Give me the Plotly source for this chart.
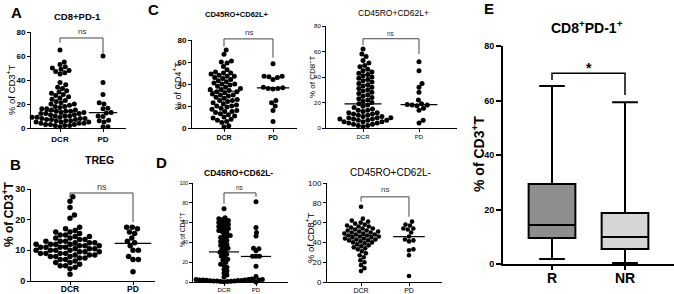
import math
import plotly.graph_objects as go

W, H = 674, 294
FONT = "Liberation Sans, Arial, sans-serif"

CATS = ["DCR", "PD"]

# ---------------- data ----------------
A_DCR = [65, 55, 53, 51, 50, 49, 48, 47, 46, 45, 38, 36, 34, 33, 31, 30, 29, 28, 27, 26,
         25, 24, 23, 22, 21, 20, 20, 19, 18, 18, 17, 16, 16, 15, 15, 14, 14, 14, 13, 13,
         12, 12, 12, 11, 11, 10, 10, 10, 9, 9, 9, 8, 8, 8, 7, 7, 7, 6, 6, 6,
         5, 5, 5, 4, 4, 4, 3, 3, 3, 2, 2, 2, 1]
A_PD = [60, 38, 28, 21, 20, 16.5, 16, 13, 12.5, 10, 9.5, 6.5, 6, 5, 1, 1]
A_LINES = [14, 12.8]

B_DCR = [27.5, 26, 24, 21.5, 20.5, 17.5, 17, 16.5, 16, 16, 15.5, 15, 15, 14.5, 14.5, 14, 14,
         13.5, 13.5, 13, 13, 13, 12.5, 12.5, 12.5, 12, 12, 12, 12, 11.5, 11.5, 11.5, 11, 11,
         11, 11, 10.5, 10.5, 10.5, 10, 10, 10, 10, 9.5, 9.5, 9.5, 9, 9, 9, 9, 8.5, 8.5, 8.5,
         8, 8, 8, 7.5, 7.5, 7, 7, 6.5, 6, 6, 5.5, 5, 5, 4.5, 4, 2.2]
B_PD = [17.5, 17.5, 17, 16, 15.5, 14, 13, 12.5, 11.5, 10, 10, 8, 7, 7, 3]
B_LINES = [11.5, 12.3]

C1_DCR = [71, 67, 61, 60, 59, 56, 53, 51, 50, 50, 49, 48, 47, 47, 46, 45, 44, 43, 42, 41,
          40, 40, 39, 38, 37, 36, 35, 35, 34, 33, 33, 32, 31, 30, 30, 29, 28, 27, 26, 25,
          25, 24, 23, 22, 21, 20, 20, 19, 18, 17, 16, 15, 15, 14, 13, 12, 11, 10, 9, 8,
          7, 6, 5, 2, 1]
C1_PD = [58.5, 47, 47, 46.5, 46, 44, 37, 36.5, 36, 36, 35.5, 25, 23, 20, 16, 6]
C1_LINES = [33.4, 36.5]

C2_DCR = [62, 58, 56, 53, 51, 49, 48, 46, 45, 44, 43, 42, 41, 40, 39, 38, 37, 36, 35, 34,
          33, 32, 31, 30, 29, 28, 27, 26, 25, 24, 23, 22, 21, 20, 19, 18, 17, 16, 15, 14,
          14, 13, 12, 12, 11, 11, 10, 10, 9, 9, 8, 8, 8, 7, 7, 7, 6, 6, 6, 5,
          5, 5, 4, 4, 3, 3, 2, 2, 1]
C2_PD = [52, 45, 35, 32, 28, 22, 19, 18.5, 18, 18, 17.5, 15.5, 14, 6, 4]
C2_LINES = [19, 18.3]

D1_DCR = [74, 65, 64, 63, 62, 61, 60, 59, 58, 57, 56, 55, 54, 53, 52, 51, 50, 48, 47, 46,
          45, 44, 42, 41, 40, 38, 37, 36, 34, 33, 32, 30, 29, 28, 26, 25, 23, 22, 20, 18,
          17, 15, 13, 11, 9, 7, 5, 3, 3, 2.5, 2.5, 2, 2, 2, 1.8, 1.5, 1.5, 1.2, 1, 1,
          1, 0.8, 0.5, 0.5, 0.3]
D1_PD = [81, 55, 50, 46.5, 34, 33.5, 31.5, 26, 26, 26, 16, 5.5, 2.5, 2.3, 2.2, 2, 0]
D1_LINES = [30.4, 25.8]

D2_DCR = [76, 64, 62, 61, 60, 59, 58, 57, 56, 56, 55, 54, 54, 53, 52, 52, 51, 51, 50, 50,
          49, 49, 48, 48, 47, 47, 46, 46, 45, 45, 44, 44, 43, 43, 42, 42, 41, 40, 40, 39,
          38, 37, 36, 35, 34, 33, 31, 29, 27, 25, 22, 20, 17, 14, 11]
D2_PD = [61, 58, 57, 54, 54, 53, 50, 46, 43, 42, 41, 33, 32, 27, 6]
D2_LINES = [47, 45.8]

E_GROUPS = ["R", "NR"]
E_LOW = [1.8, 0.4]
E_Q1 = [9.5, 5.5]
E_MED = [14.3, 9.9]
E_Q3 = [29.4, 18.7]
E_HIGH = [65.3, 59.4]
E_COLORS = ["#8e8e8e", "#d6d6d6"]


def swarm(vals, ky, kx, d):
    """simple beeswarm: horizontal offsets (category units) so markers don't overlap"""
    order = sorted(range(len(vals)), key=lambda i: vals[i])
    placed = []
    xs = [0.0] * len(vals)
    for i in order:
        y = vals[i] * ky
        near = [(px, py) for px, py in placed if abs(py - y) < d]
        cands = [0.0]
        for px, py in near:
            dx = math.sqrt(max(d * d - (py - y) ** 2, 0))
            cands += [px + dx, px - dx]
        cands.sort(key=lambda c: (round(abs(c), 6), -c))
        for c in cands:
            if all((c - px) ** 2 + (y - py) ** 2 >= d * d - 1e-6 for px, py in near):
                xs[i] = c
                placed.append((c, y))
                break
    return [x / kx for x in xs]


P = lambda px: px / W
Q = lambda py: 1 - py / H


def note(px, py, text, size, bold=False, angle=0, color="black"):
    return dict(x=P(px), y=Q(py), xref="paper", yref="paper", text=text, showarrow=False,
                xanchor="center", yanchor="middle", textangle=angle,
                font=dict(size=size, family=FONT, color=color, weight="bold" if bold else "normal"))


def bracket(c0, s, yb, ky, lleg, top, rleg, color, width):
    """significance bracket between category 0 and 1, mapped through the panel scale"""
    xs = [c0, c0, c0 + s, c0 + s]
    ys = [yb - lleg * ky, yb - top * ky, yb - top * ky, yb - rleg * ky]
    path = "M " + " L ".join(f"{P(x):.5f},{Q(y):.5f}" for x, y in zip(xs, ys))
    return dict(type="path", path=path, xref="paper", yref="paper", line=dict(color=color, width=width),
                layer="above")


panels = [
    dict(dcr=A_DCR, pd=A_PD, lines=A_LINES, xl=31, xr=126, c0=60, c1=103, yt=32, yb=128, ymax=80, dt=20,
         ms=5, ov=0.98, lw=0.33, ytf=8, xtf=8, xtl=3, xso=0, bold=True, br=(75, 71, 62, 80.5), title="CD8+PD-1",
         tx=77, ty=17, tsz=9.5, tb=True, yl="% of CD3<sup>+</sup>T", ylx=11, yly=90, ylsz=9.5, ylb=False),
    dict(dcr=B_DCR, pd=B_PD, lines=B_LINES, xl=31, xr=155, c0=70, c1=133, yt=189, yb=281, ymax=30, dt=10,
         ms=5.5, ov=0.98, lw=0.29, ytf=9, xtf=8.5, xtl=3, xso=-3, bold=True, br=(28.7, 27.4, 19.2, 30.8),
         title="TREG", tx=100, ty=160, tsz=10.5, tb=True, yl="% of CD3<sup>+</sup>T", ylx=8, yly=214, ylsz=12,
         ylb=True),
    dict(dcr=C1_DCR, pd=C1_PD, lines=C1_LINES, xl=192, xr=297, c0=224, c1=273, yt=40, yb=128, ymax=80, dt=20,
         ms=5, ov=0.98, lw=0.33, ytf=8, xtf=7, xtl=3, xso=0, bold=True, br=(81, 74, 64, 86.5),
         title="CD45RO+CD62L+", tx=237, ty=15, tsz=7.5, tb=True, yl="% of CD4<sup>+</sup>T", ylx=177, yly=86,
         ylsz=9, ylb=False),
    dict(dcr=C2_DCR, pd=C2_PD, lines=C2_LINES, xl=326, xr=457, c0=363, c1=419, yt=26, yb=128, ymax=80, dt=20,
         ms=5, ov=0.98, lw=0.33, ytf=6, xtf=6, xtl=3, xso=0, bold=False, br=(70, 65, 58, 74.5),
         title="CD45RO+CD62L+", tx=393, ty=13, tsz=8.5, tb=False, yl="% of CD8<sup>+</sup>T", ylx=312, yly=77,
         ylsz=8, ylb=False),
    dict(dcr=D1_DCR, pd=D1_PD, lines=D1_LINES, xl=193, xr=288, c0=224, c1=256, yt=183, yb=282, ymax=100, dt=20,
         ms=5, ov=0.7, lw=0.47, ytf=5, xtf=6, xtl=3, xso=-1, bold=False, br=(90, 79, 86, 95),
         title="CD45RO+CD62L-", tx=238, ty=173, tsz=8.5, tb=True, yl="% of CD4<sup>+</sup>T", ylx=182, yly=230,
         ylsz=6.5, ylb=False),
    dict(dcr=D2_DCR, pd=D2_PD, lines=D2_LINES, xl=327, xr=442, c0=361, c1=409, yt=183, yb=282, ymax=100, dt=20,
         ms=4.6, ov=0.98, lw=0.33, ytf=8, xtf=7, xtl=3, xso=-1, bold=False, br=(86, 81, 66, 93),
         title="CD45RO+CD62L-", tx=390, ty=172, tsz=10, tb=False, yl="% of CD8<sup>+</sup>T", ylx=310, yly=238,
         ylsz=9.5, ylb=False),
]

fig = go.Figure()
layout = dict(width=W, height=H, margin=dict(l=0, r=0, t=0, b=0, autoexpand=False), paper_bgcolor="white",
              plot_bgcolor="white", showlegend=False, font=dict(family=FONT, color="black"))
annotations = []
shapes = []

for i, p in enumerate(panels, start=1):
    s = p["c1"] - p["c0"]
    ky = (p["yb"] - p["yt"]) / p["ymax"]
    xa = "xaxis" if i == 1 else f"xaxis{i}"
    ya = "yaxis" if i == 1 else f"yaxis{i}"
    xr_ = "x" if i == 1 else f"x{i}"
    yr_ = "y" if i == 1 else f"y{i}"
    w = "bold" if p["bold"] else "normal"
    layout[xa] = dict(domain=[P(p["xl"]), P(p["xr"])], range=[(p["xl"] - p["c0"]) / s, (p["xr"] - p["c0"]) / s],
                      anchor=yr_, tickvals=[0, 1], ticktext=CATS, showline=True, linecolor="black", linewidth=1,
                      ticks="outside", ticklen=p["xtl"], tickwidth=1, tickcolor="black", showgrid=False,
                      zeroline=False, automargin=False, ticklabelstandoff=p["xso"],
                      tickfont=dict(size=p["xtf"], family=FONT, weight=w, color="black"))
    layout[ya] = dict(domain=[Q(p["yb"]), Q(p["yt"])], range=[0, p["ymax"]], anchor=xr_,
                      tickmode="linear", tick0=0, dtick=p["dt"], showline=True, linecolor="black", linewidth=1,
                      ticks="outside", ticklen=3, tickwidth=1, tickcolor="black", showgrid=False, zeroline=False,
                      automargin=False,
                      tickfont=dict(size=p["ytf"], family=FONT, weight=w, color="black"))
    for j, vals in enumerate([p["dcr"], p["pd"]]):
        offs = swarm(vals, ky, s, p["ms"] * p["ov"])
        fig.add_trace(go.Scatter(x=[j + o for o in offs], y=vals, mode="markers", xaxis=xr_, yaxis=yr_,
                                 marker=dict(size=p["ms"], color="black", line=dict(width=0)),
                                 cliponaxis=False, hoverinfo="skip"))
        m = p["lines"][j]
        fig.add_trace(go.Scatter(x=[j - p["lw"], j + p["lw"]], y=[m, m], mode="lines", xaxis=xr_, yaxis=yr_,
                                 line=dict(color="black", width=1.2), cliponaxis=False, hoverinfo="skip"))
    top, lleg, rleg, nsy = p["br"]
    shapes.append(bracket(p["c0"], s, p["yb"], ky, lleg, top, rleg, "#444444", 1))
    annotations.append(note(p["c0"] + 0.5 * s, p["yb"] - nsy * ky, "ns", max(p["ytf"], 6.5), color="#333333"))
    annotations.append(note(p["tx"], p["ty"], p["title"], p["tsz"], bold=p["tb"]))
    annotations.append(note(p["ylx"], p["yly"], p["yl"], p["ylsz"], bold=p["ylb"], angle=-90))

# ---------------- panel E (box plot) ----------------
xl, xr, c0, c1, yt, yb, ymax = 503, 674, 552, 625, 46, 264, 80
s = c1 - c0
kyE = (yb - yt) / ymax
layout["xaxis7"] = dict(domain=[P(xl), P(xr)], range=[(xl - c0) / s, (xr - c0) / s], anchor="y7",
                        tickvals=[0, 1], ticktext=E_GROUPS, showline=True, linecolor="black", linewidth=2,
                        ticks="outside", ticklen=4, tickwidth=2, tickcolor="black", showgrid=False, zeroline=False,
                        automargin=False, ticklabelstandoff=-4,
                        tickfont=dict(size=14, family=FONT, weight="bold", color="black"))
layout["yaxis7"] = dict(domain=[Q(yb), Q(yt)], range=[0, ymax], anchor="x7", tickmode="linear", tick0=0, dtick=20,
                        showline=True, linecolor="black", linewidth=2, ticks="outside", ticklen=5, tickwidth=2,
                        tickcolor="black", showgrid=False, zeroline=False, automargin=False,
                        tickfont=dict(size=9, family=FONT, weight="bold", color="black"))
for j in range(2):
    fig.add_trace(go.Box(x=[j], q1=[E_Q1[j]], median=[E_MED[j]], q3=[E_Q3[j]], lowerfence=[E_LOW[j]],
                         upperfence=[E_HIGH[j]], width=0.64, whiskerwidth=0.55, fillcolor=E_COLORS[j],
                         line=dict(color="black", width=2), boxpoints=False, xaxis="x7", yaxis="y7",
                         hoverinfo="skip"))
shapes.append(bracket(c0, s, yb, kyE, 67.5, 70, 62, "black", 1.5))
annotations.append(note(c0 + 0.5 * s, yb - 72.5 * kyE + 2, "*", 14, bold=True))
annotations.append(note(587, 27, "CD8<sup>+</sup>PD-1<sup>+</sup>", 14, bold=True))
annotations.append(note(478, 154, "% of CD3<sup>+</sup>T", 14, bold=True, angle=-90))

# panel letters
for letter, lx, ly in [("A", 16, 12), ("B", 15, 164), ("C", 153, 9), ("D", 161, 163), ("E", 489, 8)]:
    annotations.append(note(lx, ly, letter, 15, bold=True))

layout["annotations"] = annotations
layout["shapes"] = shapes
fig.update_layout(**layout)
fig.write_html("out.html", config={"displayModeBar": False},
               post_script="document.body.style.margin='0';")
